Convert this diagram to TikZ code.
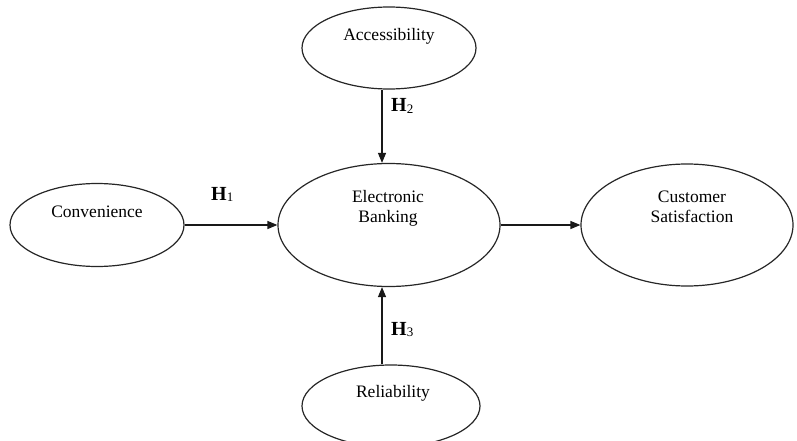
\documentclass[tikz,border=0pt]{standalone}
\usepackage{fontspec}
\setmainfont{Liberation Serif}
\usetikzlibrary{shapes.geometric,arrows.meta}
\begin{document}
\begin{tikzpicture}[x=1pt,y=-1pt,
  oval/.style={draw=black!85,line width=1.2pt,ellipse,inner sep=0pt},
  lbl/.style={font=\fontsize{17.5}{19.5}\selectfont,anchor=base,align=center,inner sep=0pt},
  hyp/.style={font=\fontsize{20}{22}\selectfont,anchor=base west,inner sep=0pt},
  arr/.style={line width=1.2pt,draw=black!90,-{Triangle[length=10pt,width=8pt]}}]
\useasboundingbox (0,0) rectangle (797,441);
\clip (0,0) rectangle (797,441);
\node[oval,minimum width=174pt,minimum height=82pt] (acc) at (389,48) {};
\node[oval,minimum width=174pt,minimum height=83pt] (conv) at (97,225) {};
\node[oval,minimum width=222pt,minimum height=123pt] (eb) at (389,225) {};
\node[oval,minimum width=212pt,minimum height=122pt] (cs) at (687,225) {};
\node[oval,minimum width=178pt,minimum height=82pt] (rel) at (391,406) {};
\node[lbl] (acct) at (389,41) {Accessibility};
\node[lbl] (convt) at (97,217) {Convenience};
\node[lbl] (ebt) at (388,222) {Electronic\\Banking};
\node[lbl] (cst) at (692,222) {Customer\\Satisfaction};
\node[lbl] (relt) at (393,397) {Reliability};
\node[hyp] (h1) at (211,200) {\textbf{H}\raisebox{-0.2ex}{\fontsize{13}{14}\selectfont 1}};
\node[hyp] (h2) at (391,112) {\textbf{H}\raisebox{-0.2ex}{\fontsize{13}{14}\selectfont 2}};
\node[hyp] (h3) at (391,335) {\textbf{H}\raisebox{-0.2ex}{\fontsize{13}{14}\selectfont 3}};
\draw[arr] ([xshift=-7pt]acc.south) -- ([xshift=-7pt]eb.north);
\draw[arr] (conv.east) -- (eb.west);
\draw[arr] (eb.east) -- (cs.west);
\draw[arr] ([xshift=-9pt]rel.north) -- ([xshift=-7pt]eb.south);
\end{tikzpicture}
\end{document}
